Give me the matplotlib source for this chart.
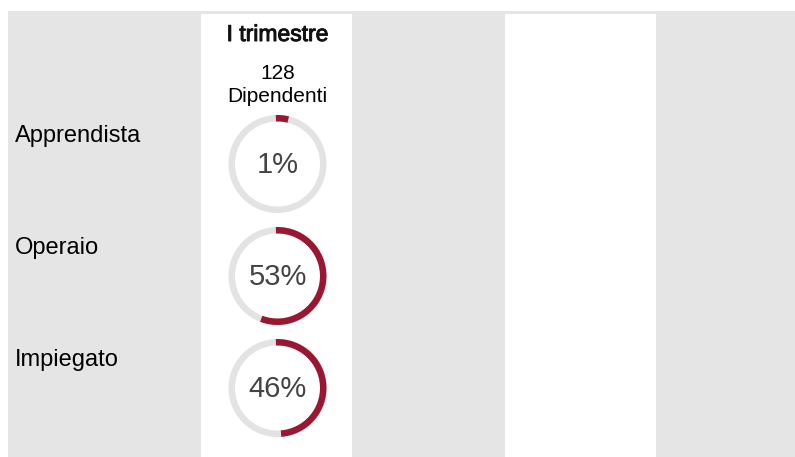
import matplotlib.pyplot as plt
from matplotlib.patches import Rectangle, Wedge
import matplotlib.patheffects as pe

plt.rcParams['font.family'] = ['Liberation Sans', 'DejaVu Sans']

# dati
periodi = ['I trimestre']
dipendenti = [128]
categorie = ['Apprendista', 'Operaio', 'Impiegato']
percentuali = [1, 53, 46]

ROSSO = '#9b1631'
GRIGIO_ANELLO = '#e3e3e3'
SFONDO = '#e5e5e5'

W, H = 795, 457
fig = plt.figure(figsize=(W / 100, H / 100), dpi=100)
ax = fig.add_axes([0, 0, 1, 1])
ax.set_xlim(0, W)
ax.set_ylim(H, 0)
ax.axis('off')

# sfondo grigio e colonne bianche
ax.add_patch(Rectangle((8, 11), W - 8, H - 11, color=SFONDO, lw=0))
col_x = [201, 505]
col_w = 151
for x in col_x:
    ax.add_patch(Rectangle((x, 14), col_w, H - 14, color='white', lw=0))

cx = col_x[0] + col_w / 2 + 1
ax.text(cx, 41, periodi[0], ha='center', va='baseline', fontsize=16.5,
        color='#111111', path_effects=[pe.withStroke(linewidth=0.7, foreground='#111111')])
ax.text(cx, 79, str(dipendenti[0]), ha='center', va='baseline', fontsize=15)
ax.text(cx, 102, 'Dipendenti', ha='center', va='baseline', fontsize=15)

r_out = 49
spessore = 6.5
y0 = 164
passo = 112
pad_inizio = 2    # gradi prima delle ore 12
pad_fine = 10     # gradi dopo la fine dell'arco

for i, (cat, p) in enumerate(zip(categorie, percentuali)):
    cy = y0 + i * passo
    ax.text(15, cy - 22, cat, ha='left', va='baseline', fontsize=17)
    ax.add_patch(Wedge((cx, cy), r_out, 0, 360, width=spessore, color=GRIGIO_ANELLO, lw=0))
    t1 = -90 - pad_inizio
    t2 = -90 + p * 3.6 + pad_fine
    ax.add_patch(Wedge((cx, cy), r_out, t1, t2, width=spessore, color=ROSSO, lw=0))
    ax.text(cx, cy + 1, f'{p}%', ha='center', va='center', fontsize=21, color='#444444')

fig.savefig('out.png', dpi=100)
